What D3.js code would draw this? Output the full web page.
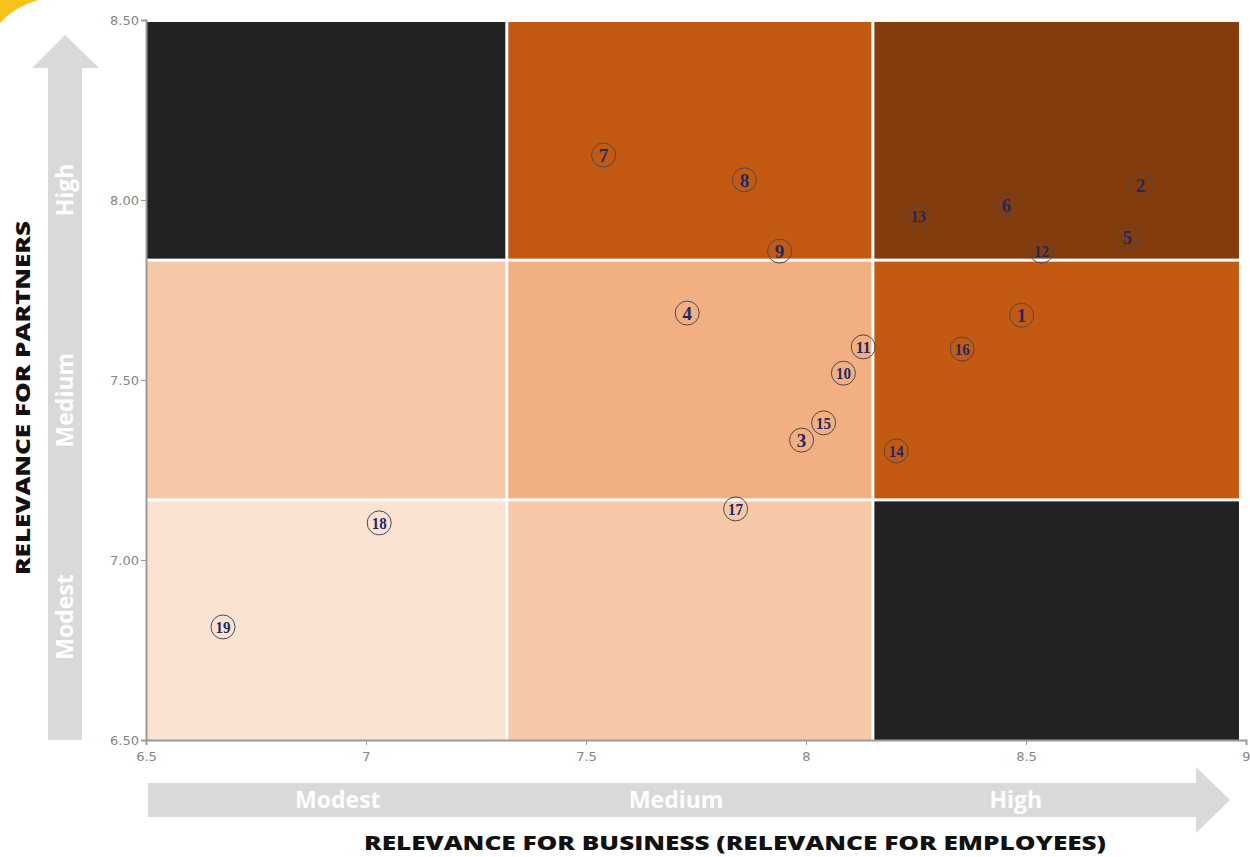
<!DOCTYPE html>
<html><head><meta charset="utf-8">
<script src="https://cdn.jsdelivr.net/npm/d3@7"></script>
<style>body{margin:0;background:#fff}svg{display:block}</style>
</head><body>
<svg id="chart" width="1250" height="857"></svg>
<script>
// ---- data ----
const ids = [1,2,3,4,5,6,7,8,9,10,11,12,13,14,15,16,17,18,19];
const business = [8.49,8.76,7.99,7.73,8.73,8.455,7.54,7.86,7.94,8.085,8.13,8.535,8.255,8.205,8.04,8.355,7.84,7.03,6.675];
const partners = [7.68,8.04,7.333,7.686,7.897,7.986,8.125,8.056,7.858,7.519,7.592,7.858,7.956,7.303,7.381,7.586,7.142,7.103,6.814];
const xTicks = [6.5,7,7.5,8,8.5,9];
const yTicks = [6.5,7,7.5,8,8.5];
const xBreaks = [6.5,7.32,8.152,8.984];
const yBreaks = [8.5,7.833,7.167,6.5];
const levelLabels = ["Modest","Medium","High"];
const xLevelPos = [6.936,7.705,8.477];
const yLevelPos = [6.842,7.444,8.028];
const cellColors = [
  ["#222222","#C45A12","#843C0C"],
  ["#F5C8A8","#F2AF82","#C45A12"],
  ["#FBE3D4","#F5C8A8","#222222"]
];
const xTitle = "RELEVANCE FOR BUSINESS (RELEVANCE FOR EMPLOYEES)";
const yTitle = "RELEVANCE FOR PARTNERS";

const svg = d3.select("#chart");
const x = d3.scaleLinear().domain([6.5,9]).range([146,1246]);
const y = d3.scaleLinear().domain([6.5,8.5]).range([740,20]);

// yellow corner decoration
svg.append("path").attr("d","M0,0 L38,0 Q14,7 0,23 Z").attr("fill","#F7C21B");

// cells
const g = svg.append("g");
for (let r=0;r<3;r++){
  for (let c=0;c<3;c++){
    const x0 = x(xBreaks[c]) + (c>0?1.5:0);
    const x1 = x(xBreaks[c+1]) - (c<2?1.5:0);
    const y0 = y(yBreaks[r]) + (r>0?1.5:2);
    const y1 = y(yBreaks[r+1]) - (r<2?1.5:0);
    g.append("rect").attr("x",x0).attr("y",y0).attr("width",x1-x0).attr("height",y1-y0).attr("fill",cellColors[r][c]);
  }
}

// axes
const fmtY = d3.format(".2f");
const yAxis = svg.append("g").attr("transform","translate(146,0)")
  .call(d3.axisLeft(y).tickValues(yTicks).tickFormat(fmtY).tickSize(5).tickPadding(2));
const xAxis = svg.append("g").attr("transform","translate(0,740)")
  .call(d3.axisBottom(x).tickValues(xTicks).tickFormat(d3.format("")).tickSize(5).tickPadding(7));
[yAxis,xAxis].forEach(a=>{
  a.select(".domain").attr("stroke","#9a9a9a").attr("stroke-width",2);
  a.selectAll(".tick line").attr("stroke","#9a9a9a");
  a.selectAll(".tick text").attr("fill","#858585").style("font-family","'DejaVu Sans',sans-serif").style("font-size","13px");
});

// vertical arrow
const vx = 65;
svg.append("path")
  .attr("d",`M${vx-17},740 L${vx-17},68 L${vx-33},68 L${vx},35 L${vx+34},68 L${vx+17},68 L${vx+17},740 Z`)
  .attr("fill","#D9D9D9");
svg.selectAll(".vlab").data(levelLabels).enter().append("text")
  .attr("transform",(d,i)=>`translate(${vx+8},${y(yLevelPos[i])}) rotate(-90)`)
  .attr("text-anchor","middle").attr("fill","#fff")
  .style("font-family","'Open Sans',sans-serif").style("font-weight","700").style("font-size","23px")
  .text(d=>d);

// horizontal arrow
const hy = 800;
svg.append("path")
  .attr("d",`M148,${hy-17} L1196,${hy-17} L1196,${hy-33} L1230,${hy} L1196,${hy+33} L1196,${hy+17} L148,${hy+17} Z`)
  .attr("fill","#D9D9D9");
svg.selectAll(".hlab").data(levelLabels).enter().append("text")
  .attr("x",(d,i)=>x(xLevelPos[i])).attr("y",hy+8)
  .attr("text-anchor","middle").attr("fill","#fff")
  .style("font-family","'Open Sans',sans-serif").style("font-weight","700").style("font-size","23px")
  .text(d=>d);

// titles
svg.append("text").attr("x",735).attr("y",850).attr("text-anchor","middle")
  .attr("textLength",742).attr("lengthAdjust","spacingAndGlyphs")
  .style("font-family","'Open Sans',sans-serif").style("font-weight","800").style("font-size","20px").attr("fill","#111")
  .text(xTitle);
svg.append("text").attr("transform","translate(30,398) rotate(-90)").attr("text-anchor","middle")
  .attr("textLength",354).attr("lengthAdjust","spacingAndGlyphs")
  .style("font-family","'Open Sans',sans-serif").style("font-weight","800").style("font-size","20px").attr("fill","#111")
  .text(yTitle);

// points
const pts = ids.map((id,i)=>({id, bx:business[i], py:partners[i]}));
const pg = svg.selectAll(".pt").data(pts).enter().append("g")
  .attr("transform",d=>`translate(${x(d.bx)},${y(d.py)})`);
pg.append("circle").attr("r",12).attr("fill","none").attr("stroke","#4a4a4a").attr("stroke-width",1);
pg.append("text").attr("text-anchor","middle").attr("dy","0.36em")
  .attr("fill","#1C2A66")
  .style("font-family","'Liberation Serif',serif").style("font-weight","700")
  .style("font-size",d=>d.id>9?"16px":"19px")
  .attr("textLength",d=>d.id>9?15:null).attr("lengthAdjust","spacingAndGlyphs")
  .text(d=>d.id);
</script>
</body></html>
